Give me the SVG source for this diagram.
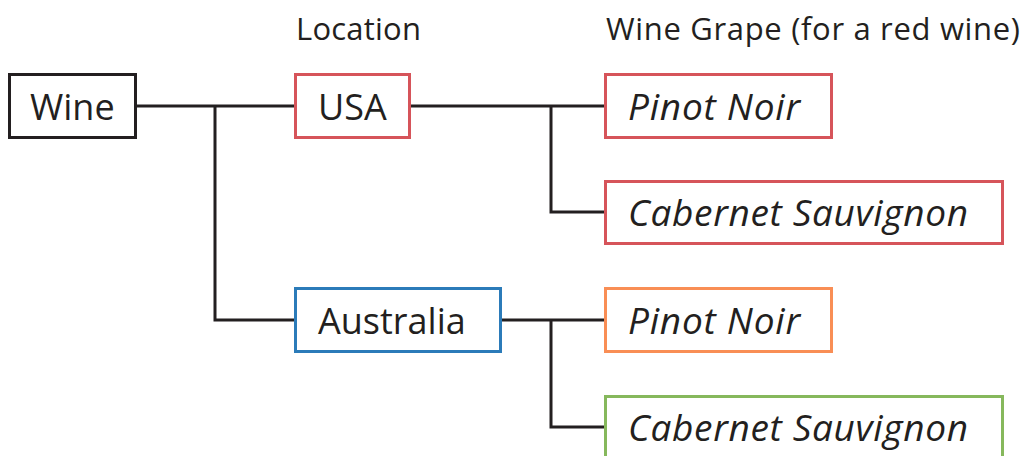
<svg xmlns="http://www.w3.org/2000/svg" width="1028" height="456" viewBox="0 0 1028 456">
<style>
rect{fill:#fff;stroke-width:3}
.k{stroke:#231f20}
.r{stroke:#d6545a}
.b{stroke:#2b7bb9}
.o{stroke:#f98e55}
.g{stroke:#86b85c}
text{font-family:"Open Sans","Noto Sans",sans-serif;fill:#231f20}
.t{font-size:36px}
.i{font-size:37px;font-style:italic}
.h{font-size:31px}
.c{fill:none;stroke:#231f20;stroke-width:3}
</style>
<text class="h" x="296" y="40" textLength="125">Location</text>
<text class="h" x="606" y="40" textLength="414">Wine Grape (for a red wine)</text>
<g id="connectors">
<polyline class="c" points="136,106 295,106"/>
<polyline class="c" points="215,106 215,320 295,320"/>
<polyline class="c" points="410,106 605,106"/>
<polyline class="c" points="551,106 551,212 605,212"/>
<polyline class="c" points="501,320 605,320"/>
<polyline class="c" points="551,320 551,427 605,427"/>
</g>
<g id="wine"><rect class="k" x="9.5" y="74.5" width="126" height="63"/><text class="t" x="30" y="120">Wine</text></g>
<g id="usa"><rect class="r" x="295.5" y="74.5" width="114" height="63"/><text class="t" x="318" y="120">USA</text></g>
<g id="australia"><rect class="b" x="295.5" y="288.5" width="205" height="63"/><text class="t" x="318" y="334">Australia</text></g>
<g id="usa-pinot"><rect class="r" x="605.5" y="74.5" width="226" height="63"/><text class="i" x="628" y="120" textLength="172">Pinot Noir</text></g>
<g id="usa-cabernet"><rect class="r" x="605.5" y="181.5" width="397" height="62"/><text class="i" x="628" y="226" textLength="340">Cabernet Sauvignon</text></g>
<g id="aus-pinot"><rect class="o" x="605.5" y="288.5" width="226" height="63"/><text class="i" x="628" y="334" textLength="172">Pinot Noir</text></g>
<g id="aus-cabernet"><rect class="g" x="605.5" y="396.5" width="397" height="63"/><text class="i" x="628" y="441" textLength="340">Cabernet Sauvignon</text></g>
</svg>
